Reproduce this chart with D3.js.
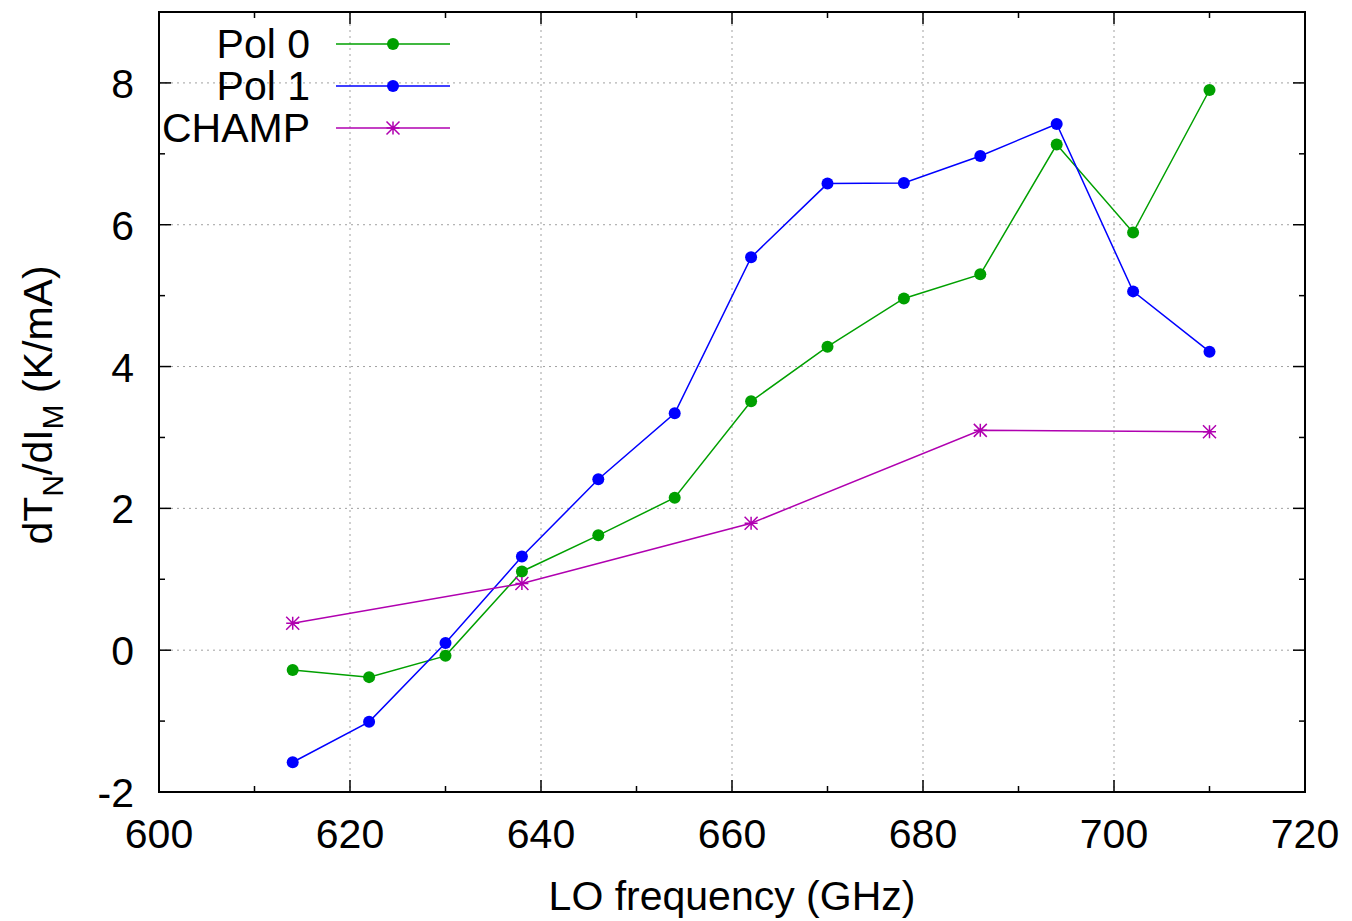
<!DOCTYPE html>
<meta charset="utf-8">
<style>
body{margin:0;background:white;}
svg{display:block;font-family:"Liberation Sans",Arial,sans-serif;}
.grid line{stroke:#a0a0a0;stroke-width:1;stroke-dasharray:2,4;}
.tick-label{font-size:41px;fill:#000;}
</style>
<body>
<script src="https://cdn.jsdelivr.net/npm/d3@7"></script>
<script>
var freq = [614, 622, 630, 638, 646, 654, 662, 670, 678, 686, 694, 702, 710];
var pol0 = [-0.28, -0.38, -0.08, 1.11, 1.62, 2.15, 3.51, 4.28, 4.96, 5.30, 7.13, 5.89, 7.90];
var pol1 = [-1.58, -1.01, 0.10, 1.32, 2.41, 3.34, 5.54, 6.58, 6.59, 6.97, 7.42, 5.06, 4.21];
var champFreq = [614, 638, 662, 686, 710];
var champ = [0.38, 0.94, 1.79, 3.10, 3.08];
var xTicks = [600, 620, 640, 660, 680, 700, 720];
var yTicks = [-2, 0, 2, 4, 6, 8];

var W = 1352, H = 921;
var m = {left:159, right:1305, top:12, bottom:792};

var svg = d3.select("body").append("svg").attr("width", W).attr("height", H);
var x = d3.scaleLinear().domain([600, 720]).range([m.left, m.right]);
var y = d3.scaleLinear().domain([-2, 9]).range([m.bottom, m.top]);

// grid
var grid = svg.append("g").attr("class", "grid");
grid.selectAll(".gx").data(xTicks.slice(1, -1)).enter().append("line")
  .attr("x1", d => x(d)).attr("x2", d => x(d)).attr("y1", m.top).attr("y2", m.bottom);
grid.selectAll(".gy").data(yTicks.slice(1)).enter().append("line")
  .attr("x1", m.left).attr("x2", m.right).attr("y1", d => y(d)).attr("y2", d => y(d));

// ticks, mirrored on all sides
var ticks = svg.append("g").attr("stroke", "#000").attr("stroke-width", 1.5);
var xMinor = d3.range(610, 720, 20), yMinor = d3.range(-1, 9, 2);
function xt(v, len) {
  ticks.append("line").attr("x1", x(v)).attr("x2", x(v)).attr("y1", m.bottom).attr("y2", m.bottom - len);
  ticks.append("line").attr("x1", x(v)).attr("x2", x(v)).attr("y1", m.top).attr("y2", m.top + len);
}
function yt(v, len) {
  ticks.append("line").attr("y1", y(v)).attr("y2", y(v)).attr("x1", m.left).attr("x2", m.left + len);
  ticks.append("line").attr("y1", y(v)).attr("y2", y(v)).attr("x1", m.right).attr("x2", m.right - len);
}
xTicks.forEach(v => xt(v, 12)); xMinor.forEach(v => xt(v, 6));
yTicks.forEach(v => yt(v, 12)); yMinor.forEach(v => yt(v, 6));

// tick labels
svg.selectAll(".xl").data(xTicks).enter().append("text").attr("class", "tick-label")
  .attr("x", d => x(d)).attr("y", 848).attr("text-anchor", "middle").text(d => d);
svg.selectAll(".yl").data(yTicks).enter().append("text").attr("class", "tick-label")
  .attr("x", 134).attr("y", d => y(d) + 15).attr("text-anchor", "end").text(d => d);

// axis titles
svg.append("text").attr("class", "tick-label").attr("x", 732).attr("y", 910)
  .attr("text-anchor", "middle").text("LO frequency (GHz)");
var yl = svg.append("text").attr("class", "tick-label").attr("text-anchor", "middle")
  .attr("transform", "translate(52,405) rotate(-90)");
yl.append("tspan").text("dT");
yl.append("tspan").attr("font-size", 30).attr("dy", 11).text("N");
yl.append("tspan").attr("dy", -11).text("/dI");
yl.append("tspan").attr("font-size", 30).attr("dy", 11).text("M");
yl.append("tspan").attr("dy", -11).text(" (K/mA)");

// series
var series = [
  {name:"Pol 0", xs:freq, ys:pol0, color:"#00a000", mark:"dot"},
  {name:"Pol 1", xs:freq, ys:pol1, color:"#0000ff", mark:"dot"},
  {name:"CHAMP", xs:champFreq, ys:champ, color:"#b000b0", mark:"star"}
];
var line = d3.line().x(d => x(d[0])).y(d => y(d[1]));

function marker(g, cx, cy, s) {
  if (s.mark === "dot") {
    g.append("circle").attr("cx", cx).attr("cy", cy).attr("r", 6).attr("fill", s.color);
  } else {
    var r = 6.5, p = g.append("path").attr("stroke", s.color).attr("stroke-width", 1.5).attr("fill", "none");
    p.attr("d", "M" + (cx - r) + "," + cy + "H" + (cx + r) +
      "M" + cx + "," + (cy - r) + "V" + (cy + r) +
      "M" + (cx - r) + "," + (cy - r) + "L" + (cx + r) + "," + (cy + r) +
      "M" + (cx - r) + "," + (cy + r) + "L" + (cx + r) + "," + (cy - r));
  }
}

series.forEach(function(s) {
  var pts = s.xs.map((v, i) => [v, s.ys[i]]);
  var g = svg.append("g");
  g.append("path").datum(pts).attr("d", line).attr("fill", "none")
    .attr("stroke", s.color).attr("stroke-width", 1.5);
  pts.forEach(p => marker(g, x(p[0]), y(p[1]), s));
});

// legend
series.forEach(function(s, i) {
  var ly = 44 + i * 42;
  svg.append("text").attr("class", "tick-label").attr("x", 310).attr("y", ly + 14)
    .attr("text-anchor", "end").text(s.name);
  var g = svg.append("g");
  g.append("line").attr("x1", 336).attr("x2", 450).attr("y1", ly).attr("y2", ly)
    .attr("stroke", s.color).attr("stroke-width", 1.5);
  marker(g, 393, ly, s);
});

// border
svg.append("rect").attr("x", m.left).attr("y", m.top)
  .attr("width", m.right - m.left).attr("height", m.bottom - m.top)
  .attr("fill", "none").attr("stroke", "#000").attr("stroke-width", 2);
</script>
</body>
